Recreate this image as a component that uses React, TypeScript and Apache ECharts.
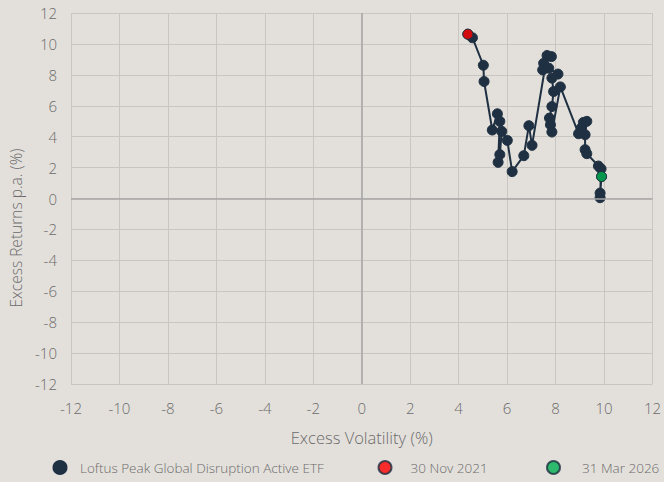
import React, { useEffect, useRef } from "react";
import * as echarts from "echarts";

const axisTicks = [-12, -10, -8, -6, -4, -2, 0, 2, 4, 6, 8, 10, 12];

const seriesName = "Loftus Peak Global Disruption Active ETF";
const startName = "30 Nov 2021";
const endName = "31 Mar 2026";
const xAxisTitle = "Excess Volatility (%)";
const yAxisTitle = "Excess Returns p.a. (%)";

const excessVolatility = [
  4.38, 4.57, 5.02, 5.05, 5.39, 5.6, 5.7, 5.63, 5.7, 5.78, 6.01, 6.21, 6.69, 6.9, 7.03,
  7.65, 7.83, 7.51, 7.47, 7.72, 8.1, 7.85, 7.92, 7.85, 7.75, 7.79, 7.85, 8.2,
  8.95, 9.06, 9.15, 9.29, 9.22, 9.22, 9.29, 9.77, 9.88, 9.84, 9.84, 9.9,
];
const excessReturns = [
  10.63, 10.4, 8.62, 7.57, 4.43, 5.48, 4.99, 2.34, 2.84, 4.34, 3.76, 1.74, 2.77, 4.71, 3.44,
  9.25, 9.18, 8.75, 8.32, 8.43, 8.05, 7.79, 6.92, 5.95, 5.2, 4.77, 4.3, 7.22,
  4.19, 4.56, 4.92, 4.99, 4.13, 3.16, 2.9, 2.1, 1.92, 0.05, 0.35, 1.42,
];

const NAVY = "#1e3042";
const TEXT = "#6b6b6b";
const FONT = "'Open Sans', Lato, sans-serif";

export default function App() {
  const ref = useRef<HTMLDivElement>(null);
  useEffect(() => {
    if (!ref.current) return;
    const chart = echarts.init(ref.current, null, { renderer: "svg" });
    const points = excessVolatility.map((x, i) => [x, excessReturns[i]]);
    const first = points[0];
    const last = points[points.length - 1];
    const axisCommon = {
      type: "value" as const,
      min: axisTicks[0],
      max: axisTicks[axisTicks.length - 1],
      interval: 2,
      axisLine: { show: false },
      axisTick: { show: false },
      splitLine: { show: true, lineStyle: { color: "#c9c6c1", width: 1 } },
      nameLocation: "middle" as const,
    };
    chart.setOption({
      animation: false,
      backgroundColor: "#e3e0db",
      textStyle: { fontFamily: FONT },
      grid: { left: 71, right: 10, top: 13, bottom: 98, containLabel: false },
      xAxis: {
        ...axisCommon,
        name: xAxisTitle,
        nameGap: 45,
        nameTextStyle: { color: TEXT, fontSize: 16.5, fontFamily: FONT, fontWeight: 300 },
        axisLabel: { color: TEXT, fontSize: 15, margin: 16, fontFamily: FONT, fontWeight: 300 },
      },
      yAxis: {
        ...axisCommon,
        axisLabel: { color: TEXT, fontSize: 15, margin: 14, fontFamily: FONT, fontWeight: 300 },
      },
      graphic: [
        {
          type: "text",
          x: 16,
          y: 228,
          rotation: Math.PI / 2,
          style: {
            text: yAxisTitle,
            fill: TEXT,
            fontSize: 15.5,
            fontFamily: FONT,
            fontWeight: 300,
            align: "center",
            verticalAlign: "middle",
          },
        },
      ],
      legend: [
        { name: seriesName, left: 52.5, pad: 8.5 },
        { name: startName, left: 377.5, pad: 14 },
        { name: endName, left: 546, pad: 17 },
      ].map((l) => ({
        data: [{ name: l.name, icon: "circle" }],
        left: l.left,
        top: 460,
        padding: 0,
        itemWidth: 13,
        itemHeight: 13,
        itemGap: 0,
        textStyle: {
          color: TEXT,
          fontSize: 13.5,
          fontFamily: FONT,
          fontWeight: 300,
          padding: [0, 0, 0, l.pad],
        },
        selectedMode: false,
      })),
      series: [
        {
          type: "line",
          name: "zero",
          data: [],
          silent: true,
          z: 1,
          markLine: {
            silent: true,
            symbol: "none",
            label: { show: false },
            lineStyle: { color: "#a6a6a6", width: 1.5, type: "solid" },
            data: [{ xAxis: 0 }, { yAxis: 0 }],
          },
        },
        {
          type: "line",
          name: seriesName,
          data: points,
          symbol: "circle",
          symbolSize: 10,
          showAllSymbol: true,
          z: 3,
          itemStyle: { color: NAVY, borderColor: NAVY, borderWidth: 1 },
          lineStyle: { color: NAVY, width: 2 },
        },
        {
          type: "scatter",
          name: startName,
          data: [first],
          symbol: "circle",
          symbolSize: 10,
          z: 4,
          itemStyle: { color: "#ff0000", borderColor: NAVY, borderWidth: 1 },
        },
        {
          type: "scatter",
          name: endName,
          data: [last],
          symbol: "circle",
          symbolSize: 10,
          z: 4,
          itemStyle: { color: "#00b050", borderColor: NAVY, borderWidth: 1 },
        },
      ],
    });
    return () => chart.dispose();
  }, []);
  return (
    <div style={{ position: "absolute", left: 0, top: 0 }}>
      <div ref={ref} style={{ width: 664, height: 482 }} />
    </div>
  );
}
